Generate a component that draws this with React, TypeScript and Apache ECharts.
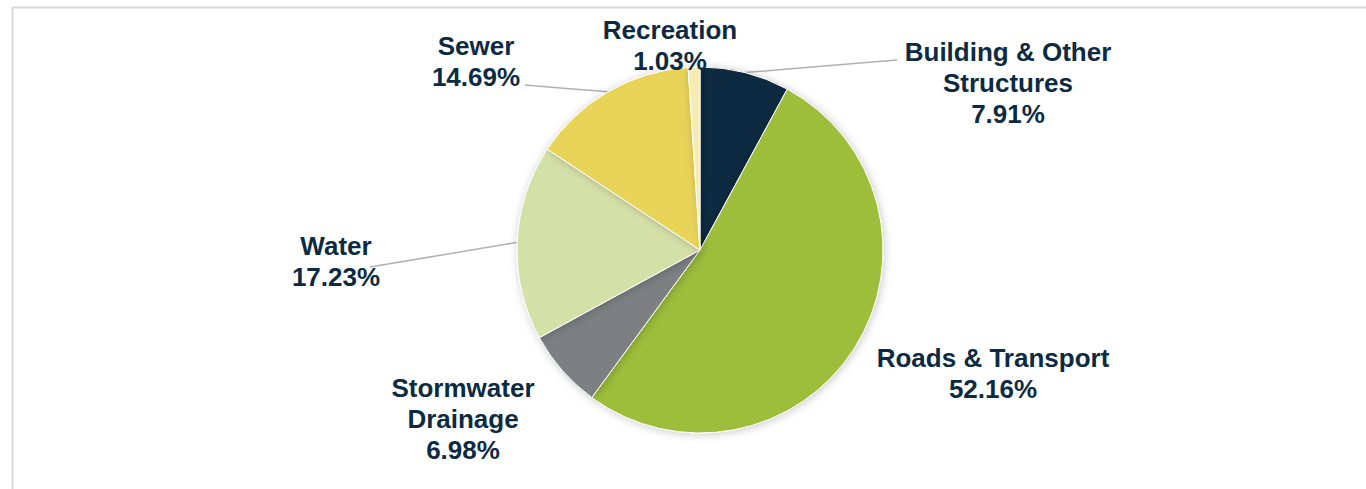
import React, { useEffect, useRef } from "react";
import * as echarts from "echarts";

const categories = [
  "Building & Other Structures",
  "Roads & Transport",
  "Stormwater Drainage",
  "Water",
  "Sewer",
  "Recreation",
];
const shares = [7.91, 52.16, 6.98, 17.23, 14.69, 1.03];
const labelLines = [
  "Building & Other\nStructures",
  "Roads & Transport",
  "Stormwater\nDrainage",
  "Water",
  "Sewer",
  "Recreation",
];
const colors = ["#0b2a40", "#9dbd3b", "#7e7f82", "#d5e0a9", "#e9d45a", "#f6ebb2"];
const showLeader = [true, false, false, true, true, false];
const labelPos: Record<string, [number, number]> = {
  "Building & Other Structures": [1008, 83],
  "Roads & Transport": [993, 373],
  "Stormwater Drainage": [463, 419],
  Water: [336, 261],
  Sewer: [476, 61],
  Recreation: [670, 45],
};
// where each leader line meets its label
const leaderEnd: Record<string, [number, number]> = {
  "Building & Other Structures": [897, 60],
  Water: [370, 267],
  Sewer: [525, 85],
};

export default function App() {
  const ref = useRef<HTMLDivElement>(null);
  useEffect(() => {
    if (!ref.current) return;
    const chart = echarts.init(ref.current, null, { renderer: "svg" });
    chart.setOption({
      animation: false,
      backgroundColor: "#ffffff",
      graphic: [
        {
          type: "line",
          shape: { x1: 12, y1: 7.5, x2: 1366, y2: 7.5 },
          style: { stroke: "#d9d9d9", lineWidth: 2 },
          silent: true,
        },
        {
          type: "line",
          shape: { x1: 12.5, y1: 7, x2: 12.5, y2: 489 },
          style: { stroke: "#d9d9d9", lineWidth: 2 },
          silent: true,
        },
      ],
      series: [
        {
          type: "pie",
          center: [700, 250],
          radius: 183,
          startAngle: 90,
          clockwise: true,
          avoidLabelOverlap: false,
          itemStyle: {
            borderColor: "#ffffff",
            borderWidth: 1,
            shadowBlur: 8,
            shadowOffsetX: 1,
            shadowOffsetY: 1,
            shadowColor: "rgba(0,0,0,0.22)",
          },
          label: {
            show: true,
            position: "outside",
            formatter: (p: any) => `${labelLines[p.dataIndex]}\n${Number(p.value).toFixed(2)}%`,
            fontFamily: "Liberation Sans, Arial, sans-serif",
            fontWeight: "bold",
            fontSize: 26,
            lineHeight: 31,
            color: "#0c2b43",
            align: "center",
          },
          labelLine: {
            show: true,
            length: 10,
            length2: 10,
            lineStyle: { color: "#b0b0b0", width: 1.5 },
          },
          labelLayout: (params: any) => {
            const name = categories[params.dataIndex];
            const pos = labelPos[name];
            const out: any = {
              x: pos[0],
              y: pos[1],
              align: "center",
              verticalAlign: "middle",
            };
            const end = leaderEnd[name];
            if (end && params.labelLinePoints && params.labelLinePoints.length) {
              const start = params.labelLinePoints[0];
              out.labelLinePoints = [
                [start[0], start[1]],
                [(start[0] + end[0]) / 2, (start[1] + end[1]) / 2],
                [end[0], end[1]],
              ];
            }
            return out;
          },
          data: categories.map((name, i) => ({
            name,
            value: shares[i],
            itemStyle: { color: colors[i] },
            labelLine: { show: showLeader[i] },
          })),
        },
      ],
    });
    return () => chart.dispose();
  }, []);
  return (
    <div
      ref={ref}
      style={{ position: "absolute", left: 0, top: 0, width: 1366, height: 489 }}
    />
  );
}
